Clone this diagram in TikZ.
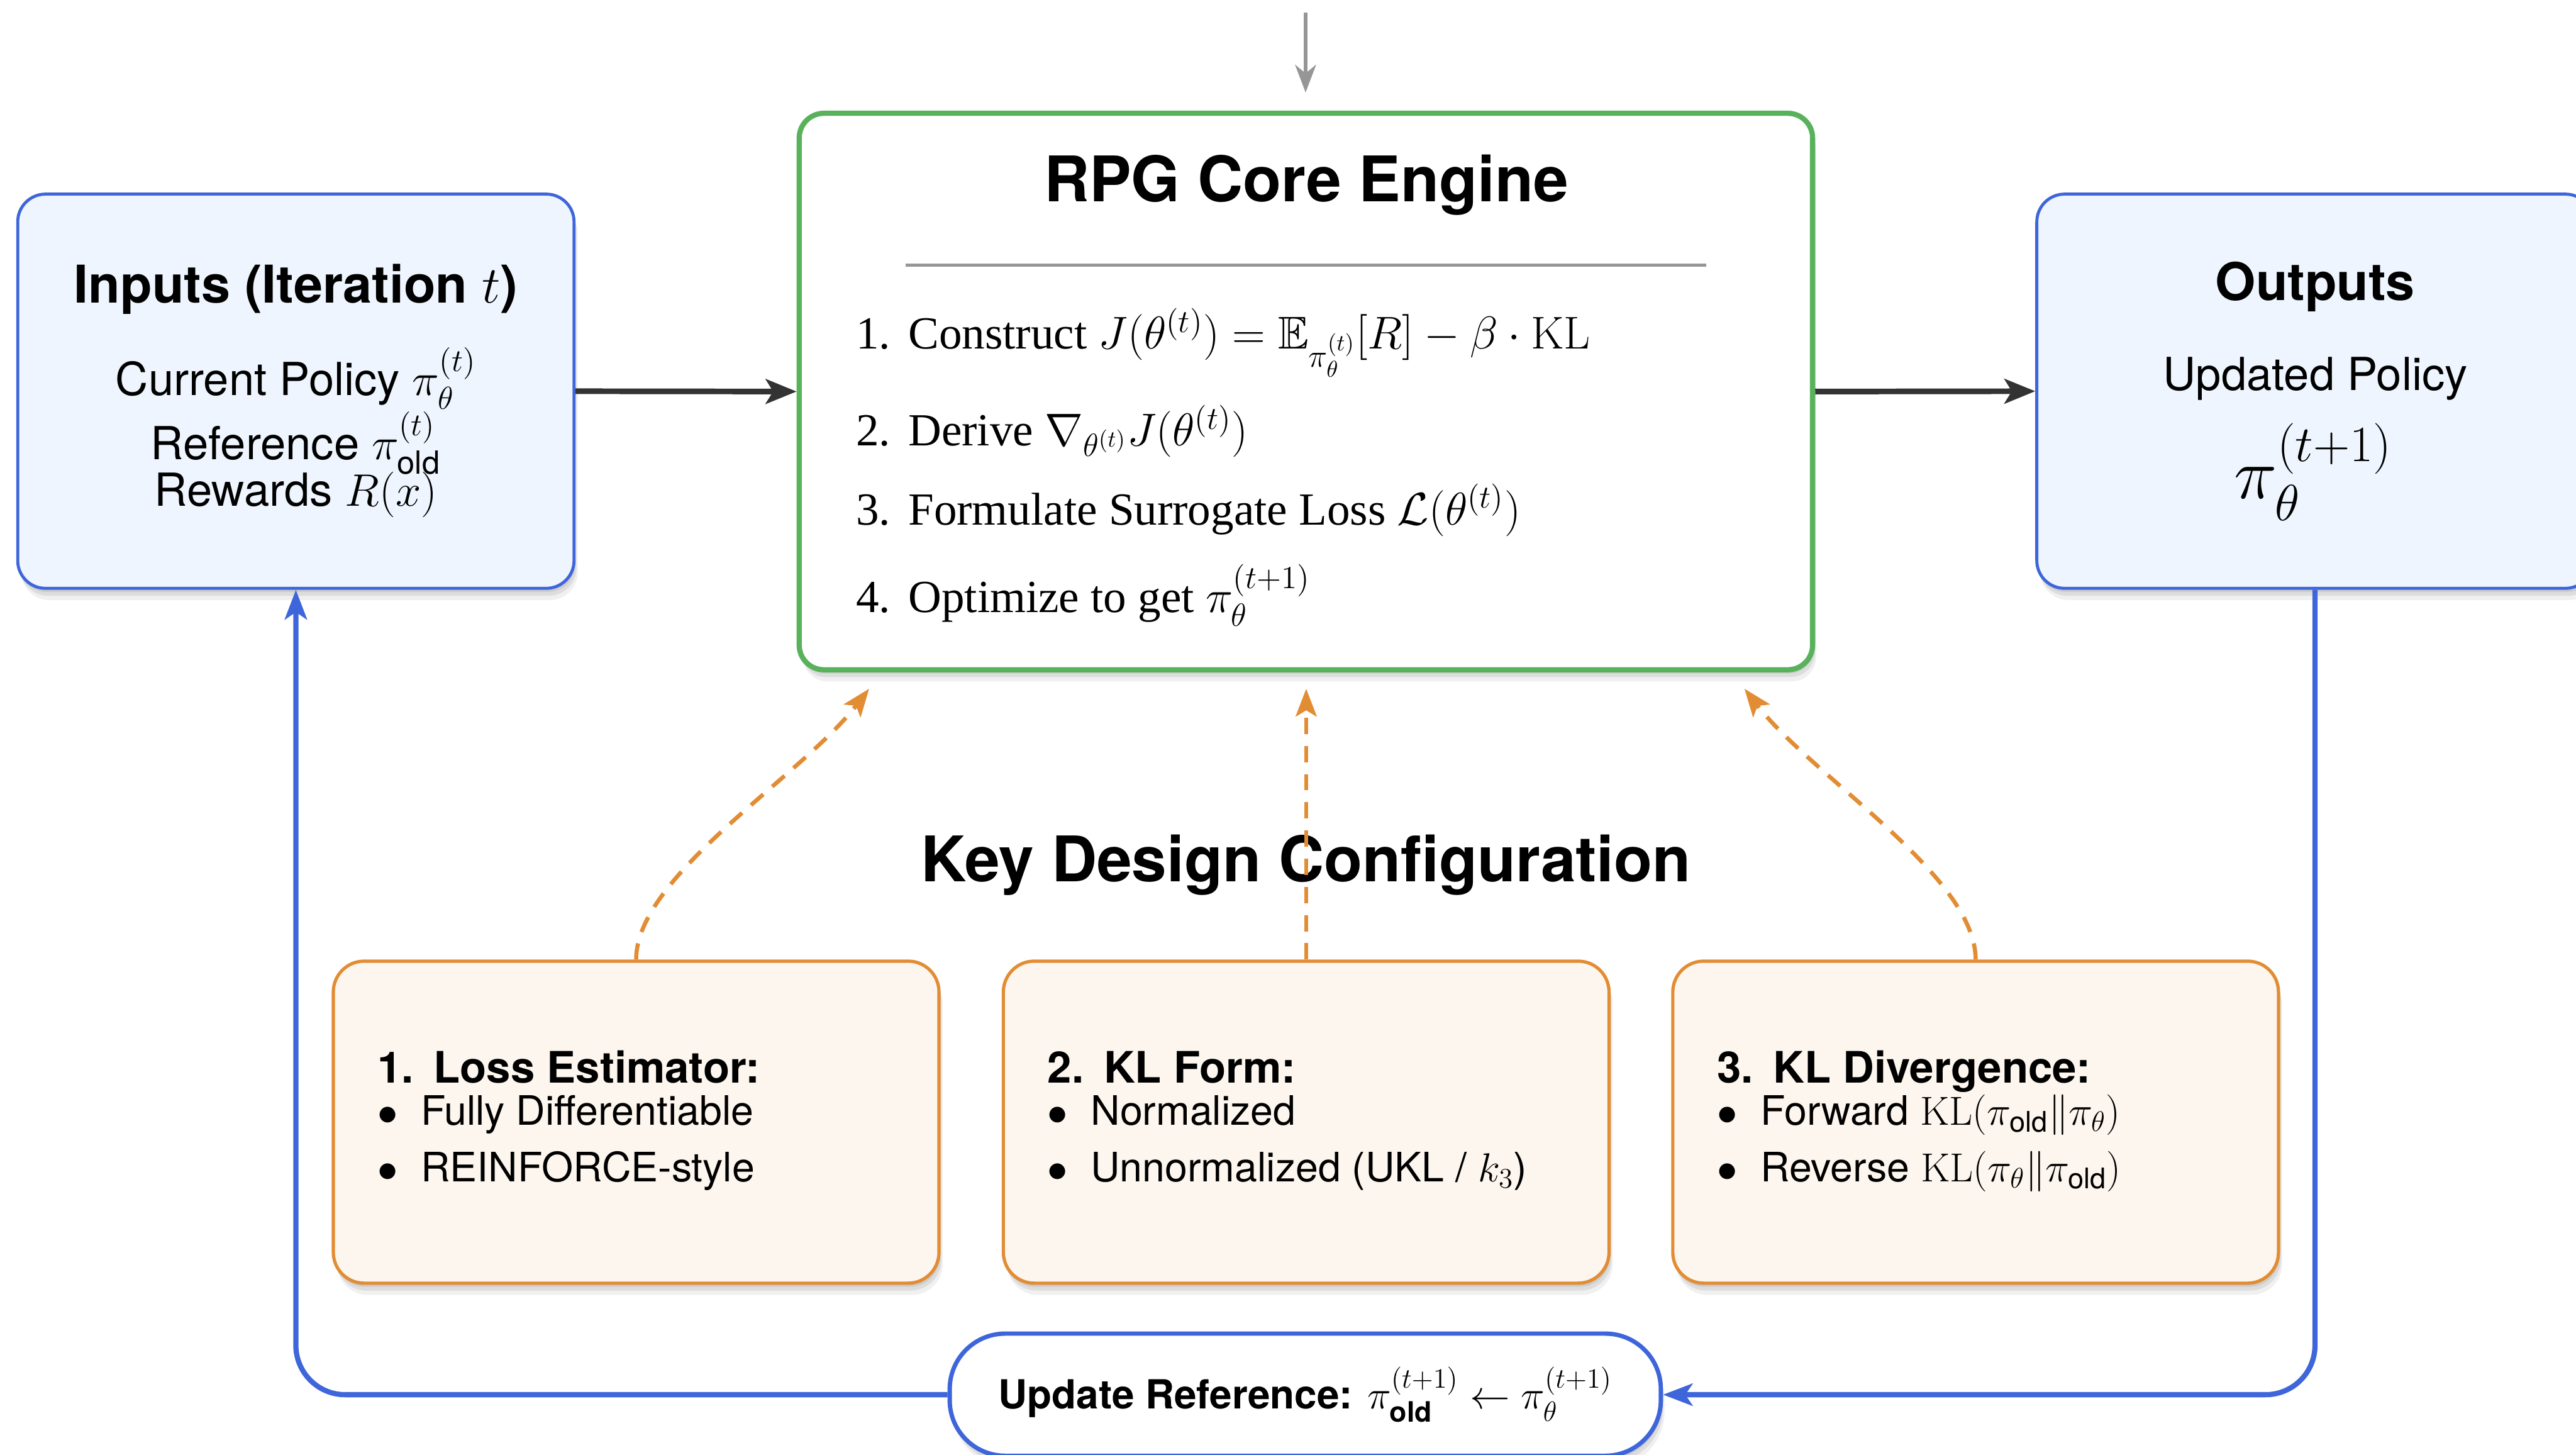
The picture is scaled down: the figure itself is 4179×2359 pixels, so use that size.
\RequirePackage{fix-cm}
\documentclass[tikz,border=0pt]{standalone}
\usepackage{amsmath,amssymb}
\usepackage[no-math]{fontspec}
\setmainfont{TeX Gyre Heros}
\newfontfamily\serifT{Liberation Serif}
\usetikzlibrary{arrows.meta,shadows,calc}
\definecolor{bblue}{RGB}{62,102,218}
\definecolor{bfill}{RGB}{238,245,254}
\definecolor{ggreen}{RGB}{88,178,92}
\definecolor{oorange}{RGB}{226,140,52}
\definecolor{ofill}{RGB}{253,246,238}
\definecolor{darkarrow}{RGB}{51,51,51}
\definecolor{grayline}{RGB}{150,150,150}
\begin{document}
\begin{tikzpicture}[x=0.01cm,y=-0.01cm,
  softshadow/.style={
    drop shadow={shadow xshift=0.02cm,shadow yshift=-0.06cm,opacity=0.08,fill=black},
    drop shadow={shadow xshift=0.04cm,shadow yshift=-0.12cm,opacity=0.08,fill=black},
    drop shadow={shadow xshift=0.06cm,shadow yshift=-0.19cm,opacity=0.06,fill=black}},
  bluebox/.style={draw=bblue,line width=1.4pt,fill=bfill,rounded corners=0.45cm,
    inner sep=0pt,minimum width=9.02cm,minimum height=6.39cm,softshadow},
  corebox/.style={draw=ggreen,line width=2.4pt,fill=white,rounded corners=0.4cm,
    inner sep=0pt,minimum width=16.43cm,minimum height=9.02cm,softshadow},
  cfgbox/.style={draw=oorange,line width=1.5pt,fill=ofill,rounded corners=0.5cm,
    inner sep=0pt,minimum width=9.82cm,minimum height=5.22cm,softshadow},
  updbox/.style={draw=bblue,line width=2pt,fill=white,rounded corners=0.9cm,
    inner sep=0pt,minimum width=11.53cm,minimum height=1.98cm,softshadow,
    font=\fontsize{18.5}{22}\selectfont\bfseries},
  boxtitle/.style={anchor=base,font=\fontsize{24}{28}\selectfont\bfseries,inner sep=0pt},
  bigtitle/.style={anchor=base,font=\fontsize{29}{34}\selectfont\bfseries,inner sep=0pt},
  bodytext/.style={anchor=base,font=\fontsize{21}{25}\selectfont,inner sep=0pt},
  coreitem/.style={anchor=base west,font=\serifT\fontsize{21.2}{25}\selectfont,inner sep=0pt},
  cfgtitle/.style={anchor=base west,font=\fontsize{20}{24}\selectfont\bfseries,inner sep=0pt},
  cfgitem/.style={anchor=base west,font=\fontsize{18.7}{22}\selectfont,inner sep=0pt},
  flowarrow/.style={draw=darkarrow,line width=2.6pt,-{Stealth[length=0.5cm,width=0.4cm,inset=0.12cm]}},
  looparrow/.style={draw=bblue,line width=2.4pt,rounded corners=0.8cm,-{Stealth[length=0.48cm,width=0.36cm,inset=0.12cm]}},
  cfgarrow/.style={draw=oorange,line width=1.9pt,dash pattern=on 7.5pt off 5.5pt,-{Stealth[length=0.45cm,width=0.34cm,inset=0.1cm]}},
  feedarrow/.style={draw=grayline,line width=1.5pt,-{Stealth[length=0.45cm,width=0.34cm,inset=0.14cm]}}
]
\path[use as bounding box,clip] (0,0) rectangle (4179,2359);

% boxes
\node[bluebox] (inp) at (480,634.5) {};
\node[corebox] (core) at (2118.5,635) {};
\node[bluebox] (outp) at (3755.5,634.5) {};
\node[cfgbox] (b1) at (1032,1820) {};
\node[cfgbox] (b2) at (2119,1820) {};
\node[cfgbox] (b3) at (3205,1820) {};
\node[updbox] (upd) at (2117.5,2262) {Update Reference: $\pi_{\text{old}}^{(t+1)} \leftarrow \pi_\theta^{(t+1)}$};

% inputs text
\node[boxtitle] (inT) at (480,491) {Inputs (Iteration $t$)};
\node[bodytext] (inL1) at (480,641) {Current Policy $\pi_\theta^{(t)}$};
\node[bodytext] (inL2) at (480,745) {Reference $\pi_{\text{old}}^{(t)}$};
\node[bodytext] (inL3) at (480,821) {Rewards $R(x)$};

% outputs text
\node[boxtitle] (outT) at (3756,487) {Outputs};
\node[bodytext] (outL1) at (3756,633) {Updated Policy};
\node[anchor=base,inner sep=0pt,font=\fontsize{33.5}{38}\selectfont] (outL2) at (3753,809) {$\pi_\theta^{(t+1)}$};

% core text
\node[bigtitle] (coreT) at (2119,327) {RPG Core Engine};
\coordinate (ruleL) at (1469,430);
\coordinate (ruleR) at (2768,430);
\draw[grayline,line width=1.4pt] (ruleL) -- (ruleR);
\node[coreitem] (it1) at (1388,566) {\makebox[0.85cm][l]{1.}Construct $J(\theta^{(t)}) = \mathbb{E}_{\pi_\theta^{(t)}}[R] - \beta\cdot\mathrm{KL}$};
\node[coreitem] (it2) at (1388,723) {\makebox[0.85cm][l]{2.}Derive $\nabla_{\theta^{(t)}} J(\theta^{(t)})$};
\node[coreitem] (it3) at (1388,851) {\makebox[0.85cm][l]{3.}Formulate Surrogate Loss $\mathcal{L}(\theta^{(t)})$};
\node[coreitem] (it4) at (1388,993) {\makebox[0.85cm][l]{4.}Optimize to get $\pi_\theta^{(t+1)}$};

% key design title
\node[bigtitle] (keyT) at (2119,1430) {Key Design Configuration};

% config texts
\node[cfgtitle] (c1T) at (612,1756) {\makebox[0.91cm][l]{1.}Loss Estimator:};
\node[cfgitem] (c1a) at (612,1825) {\makebox[0.70cm][l]{$\bullet$}Fully Differentiable};
\node[cfgitem] (c1b) at (612,1917) {\makebox[0.70cm][l]{$\bullet$}REINFORCE-style};

\node[cfgtitle] (c2T) at (1699,1756) {\makebox[0.91cm][l]{2.}KL Form:};
\node[cfgitem] (c2a) at (1699,1825) {\makebox[0.70cm][l]{$\bullet$}Normalized};
\node[cfgitem] (c2b) at (1699,1917) {\makebox[0.70cm][l]{$\bullet$}Unnormalized (UKL / $k_3$)};

\node[cfgtitle] (c3T) at (2785,1756) {\makebox[0.91cm][l]{3.}KL Divergence:};
\node[cfgitem] (c3a) at (2785,1825) {\makebox[0.70cm][l]{$\bullet$}Forward $\mathrm{KL}(\pi_{\text{old}}\|\pi_\theta)$};
\node[cfgitem] (c3b) at (2785,1917) {\makebox[0.70cm][l]{$\bullet$}Reverse $\mathrm{KL}(\pi_\theta\|\pi_{\text{old}})$};

% connectors
\coordinate (feedTop) at (2118,20);
\coordinate (feedEnd) at (2118,150);
\draw[feedarrow] (feedTop) -- (feedEnd);

\draw[flowarrow] (inp.east) -- (core.west);
\draw[flowarrow] (core.east) -- (outp.west);

\coordinate (tipL) at (1410,1117);
\coordinate (tipM) at (2119,1117);
\coordinate (tipR) at (2830,1117);
\draw[cfgarrow] (b1.north) .. controls (1032,1420) and (1300,1260) .. (tipL);
\draw[cfgarrow] (b2.north) -- (tipM);
\draw[cfgarrow] (b3.north) .. controls (3205,1420) and (2940,1260) .. (tipR);

\draw[looparrow] (outp.south) |- (upd.east);
\draw[looparrow] (upd.west) -| (inp.south);
\end{tikzpicture}
\end{document}
